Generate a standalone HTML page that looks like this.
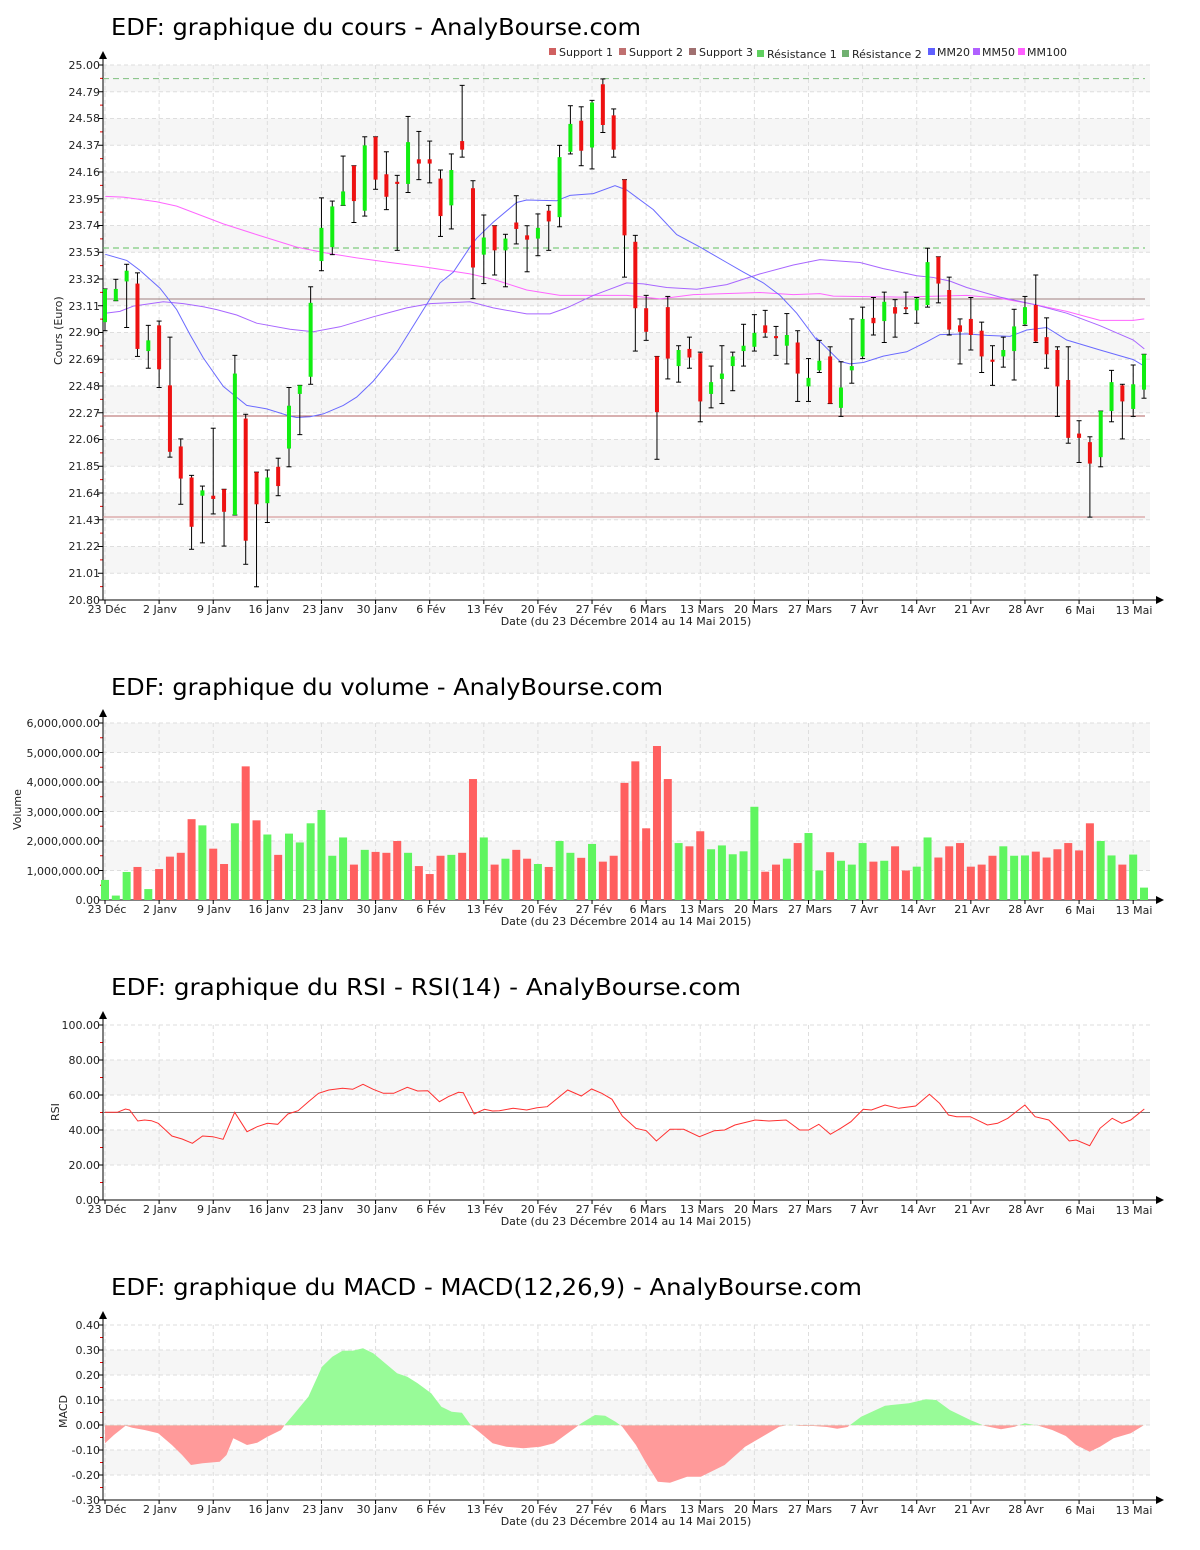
<!DOCTYPE html>
<html><head><meta charset="utf-8"><style>
body{margin:0;background:#fff}
svg{display:block}
text{font-family:"DejaVu Sans","Liberation Sans",sans-serif;fill:#222}
.t{font-size:23px;fill:#000}
.y{font-size:11px;text-anchor:end}
.x{font-size:11px;text-anchor:middle}
.l{font-size:11px}
</style></head><body>
<svg id="s" width="1200" height="1550" viewBox="0 0 1200 1550" xmlns="http://www.w3.org/2000/svg">
<g id="g"></g>
<text class="t" x="111" y="35" textLength="530" lengthAdjust="spacingAndGlyphs">EDF: graphique du cours - AnalyBourse.com</text>
<text class="t" x="111" y="695" textLength="552" lengthAdjust="spacingAndGlyphs">EDF: graphique du volume - AnalyBourse.com</text>
<text class="t" x="111" y="995" textLength="630" lengthAdjust="spacingAndGlyphs">EDF: graphique du RSI - RSI(14) - AnalyBourse.com</text>
<text class="t" x="111" y="1295" textLength="751" lengthAdjust="spacingAndGlyphs">EDF: graphique du MACD - MACD(12,26,9) - AnalyBourse.com</text>

<g class="l">
<rect x="549" y="48" width="7" height="7" fill="#d06060"/><text x="559" y="56">Support 1</text>
<rect x="619" y="48" width="7" height="7" fill="#c07070"/><text x="629" y="56">Support 2</text>
<rect x="689" y="48" width="7" height="7" fill="#a07070"/><text x="699" y="56">Support 3</text>
<rect x="757" y="50" width="7" height="7" fill="#60d060"/><text x="767" y="58">Résistance 1</text>
<rect x="842" y="50" width="7" height="7" fill="#70b070"/><text x="852" y="58">Résistance 2</text>
<rect x="928" y="48" width="7" height="7" fill="#6060ff"/><text x="937" y="56">MM20</text>
<rect x="973" y="48" width="7" height="7" fill="#b060ff"/><text x="982" y="56">MM50</text>
<rect x="1018" y="48" width="7" height="7" fill="#ff60ff"/><text x="1027" y="56">MM100</text>
</g>

<g class="y">
<text x="100" y="69">25.00</text><text x="100" y="96">24.79</text><text x="100" y="122">24.58</text><text x="100" y="149">24.37</text><text x="100" y="176">24.16</text><text x="100" y="203">23.95</text><text x="100" y="229">23.74</text><text x="100" y="256">23.53</text><text x="100" y="283">23.32</text><text x="100" y="310">23.11</text><text x="100" y="336">22.90</text><text x="100" y="363">22.69</text><text x="100" y="390">22.48</text><text x="100" y="417">22.27</text><text x="100" y="443">22.06</text><text x="100" y="470">21.85</text><text x="100" y="497">21.64</text><text x="100" y="524">21.43</text><text x="100" y="550">21.22</text><text x="100" y="577">21.01</text><text x="100" y="604">20.80</text>
<text x="100" y="727">6,000,000.00</text><text x="100" y="757">5,000,000.00</text><text x="100" y="786">4,000,000.00</text><text x="100" y="816">3,000,000.00</text><text x="100" y="845">2,000,000.00</text><text x="100" y="875">1,000,000.00</text><text x="100" y="904">0.00</text>
<text x="100" y="1029">100.00</text><text x="100" y="1064">80.00</text><text x="100" y="1099">60.00</text><text x="100" y="1134">40.00</text><text x="100" y="1169">20.00</text><text x="100" y="1204">0.00</text>
<text x="100" y="1329">0.40</text><text x="100" y="1354">0.30</text><text x="100" y="1379">0.20</text><text x="100" y="1404">0.10</text><text x="100" y="1429">0.00</text><text x="100" y="1454">-0.10</text><text x="100" y="1479">-0.20</text><text x="100" y="1504">-0.30</text>
</g>
<g class="l">
<text transform="translate(62,365) rotate(-90)">Cours (Euro)</text>
<text transform="translate(21,830) rotate(-90)">Volume</text>
<text transform="translate(59,1121) rotate(-90)">RSI</text>
<text transform="translate(67,1428) rotate(-90)">MACD</text>
</g>

<g class="x" transform="translate(0,613)">
<text x="107" y="0">23 Déc</text><text x="160" y="0">2 Janv</text><text x="214" y="0">9 Janv</text><text x="269" y="0">16 Janv</text><text x="323" y="0">23 Janv</text><text x="377" y="0">30 Janv</text><text x="431" y="0">6 Fév</text><text x="485" y="0">13 Fév</text><text x="539" y="0">20 Fév</text><text x="594" y="0">27 Fév</text><text x="648" y="0">6 Mars</text><text x="702" y="0">13 Mars</text><text x="756" y="0">20 Mars</text><text x="810" y="0">27 Mars</text><text x="864" y="0">7 Avr</text><text x="918" y="0">14 Avr</text><text x="972" y="0">21 Avr</text><text x="1026" y="0">28 Avr</text><text x="1080" y="1">6 Mai</text><text x="1134" y="1">13 Mai</text>
<text x="626" y="12">Date (du 23 Décembre 2014 au 14 Mai 2015)</text>
</g>
<g class="x" transform="translate(0,913)">
<text x="107" y="0">23 Déc</text><text x="160" y="0">2 Janv</text><text x="214" y="0">9 Janv</text><text x="269" y="0">16 Janv</text><text x="323" y="0">23 Janv</text><text x="377" y="0">30 Janv</text><text x="431" y="0">6 Fév</text><text x="485" y="0">13 Fév</text><text x="539" y="0">20 Fév</text><text x="594" y="0">27 Fév</text><text x="648" y="0">6 Mars</text><text x="702" y="0">13 Mars</text><text x="756" y="0">20 Mars</text><text x="810" y="0">27 Mars</text><text x="864" y="0">7 Avr</text><text x="918" y="0">14 Avr</text><text x="972" y="0">21 Avr</text><text x="1026" y="0">28 Avr</text><text x="1080" y="1">6 Mai</text><text x="1134" y="1">13 Mai</text>
<text x="626" y="12">Date (du 23 Décembre 2014 au 14 Mai 2015)</text>
</g>
<g class="x" transform="translate(0,1213)">
<text x="107" y="0">23 Déc</text><text x="160" y="0">2 Janv</text><text x="214" y="0">9 Janv</text><text x="269" y="0">16 Janv</text><text x="323" y="0">23 Janv</text><text x="377" y="0">30 Janv</text><text x="431" y="0">6 Fév</text><text x="485" y="0">13 Fév</text><text x="539" y="0">20 Fév</text><text x="594" y="0">27 Fév</text><text x="648" y="0">6 Mars</text><text x="702" y="0">13 Mars</text><text x="756" y="0">20 Mars</text><text x="810" y="0">27 Mars</text><text x="864" y="0">7 Avr</text><text x="918" y="0">14 Avr</text><text x="972" y="0">21 Avr</text><text x="1026" y="0">28 Avr</text><text x="1080" y="1">6 Mai</text><text x="1134" y="1">13 Mai</text>
<text x="626" y="12">Date (du 23 Décembre 2014 au 14 Mai 2015)</text>
</g>
<g class="x" transform="translate(0,1513)">
<text x="107" y="0">23 Déc</text><text x="160" y="0">2 Janv</text><text x="214" y="0">9 Janv</text><text x="269" y="0">16 Janv</text><text x="323" y="0">23 Janv</text><text x="377" y="0">30 Janv</text><text x="431" y="0">6 Fév</text><text x="485" y="0">13 Fév</text><text x="539" y="0">20 Fév</text><text x="594" y="0">27 Fév</text><text x="648" y="0">6 Mars</text><text x="702" y="0">13 Mars</text><text x="756" y="0">20 Mars</text><text x="810" y="0">27 Mars</text><text x="864" y="0">7 Avr</text><text x="918" y="0">14 Avr</text><text x="972" y="0">21 Avr</text><text x="1026" y="0">28 Avr</text><text x="1080" y="1">6 Mai</text><text x="1134" y="1">13 Mai</text>
<text x="626" y="12">Date (du 23 Décembre 2014 au 14 Mai 2015)</text>
</g>
</svg>
<script>
const NS='http://www.w3.org/2000/svg';const G=document.getElementById('g');
function el(t,a){const e=document.createElementNS(NS,t);for(const k in a)e.setAttribute(k,a[k]);G.appendChild(e);return e;}
const L=103,R=1150;
const TX=[];for(let k=0;k<20;k++)TX.push(105+54.115*k);
function panel(top,bot,n,greyOdd){
 const h=(bot-top)/n;
 for(let i=0;i<n;i++){if((i%2==1)==greyOdd)el('rect',{x:L,y:top+i*h,width:R-L,height:h,fill:'#f6f6f6'});}
 for(let i=0;i<=n;i++)el('line',{x1:L,x2:R,y1:top+i*h,y2:top+i*h,stroke:'#dedede','stroke-dasharray':'4,3'});
 for(const x of TX)el('line',{x1:x,x2:x,y1:top,y2:bot,stroke:'#dedede','stroke-dasharray':'4,3'});
 for(let i=0;i<=n;i++){el('line',{x1:98,x2:L,y1:top+i*h,y2:top+i*h,stroke:'#000'});
  if(i<n)el('line',{x1:100,x2:L,y1:top+(i+.5)*h,y2:top+(i+.5)*h,stroke:'#e00'});}
 for(const x of TX)el('line',{x1:x,x2:x,y1:bot,y2:bot+4,stroke:'#000'});
 el('line',{x1:L,x2:L,y1:top-10,y2:bot,stroke:'#000'});
 el('line',{x1:L,x2:1158,y1:bot,y2:bot,stroke:'#000'});
 el('path',{d:`M${L-4} ${top-6}L${L} ${top-14}L${L+4} ${top-6}Z`,fill:'#000'});
 el('path',{d:`M1156 ${bot-4}L1164 ${bot}L1156 ${bot+4}Z`,fill:'#000'});
}
panel(65,600,20,false);panel(723,900,6,false);panel(1025,1200,5,true);panel(1325,1500,7,true);
// price lines
el('line',{x1:L,x2:1145,y1:78.6,y2:78.6,stroke:'#80c080','stroke-dasharray':'6,4'});
el('line',{x1:L,x2:1145,y1:248,y2:248,stroke:'#60c060','stroke-dasharray':'6,4'});
el('line',{x1:L,x2:1145,y1:299,y2:299,stroke:'#a08080'});
el('line',{x1:L,x2:1145,y1:416,y2:416,stroke:'#b06060'});
el('line',{x1:L,x2:1145,y1:517,y2:517,stroke:'#d08888'});
const fy=v=>65+(3*(v-60)-15)/2.8;
const zy=z=>65+(z-15)/2.8;
function ma(parts,col){let pts=[];for(const [off,arr] of parts)for(let i=0;i<arr.length;i+=2)pts.push((off+arr[i]/3).toFixed(1)+','+zy(arr[i+1]).toFixed(1));
 el('polyline',{points:pts.join(' '),fill:'none',stroke:col,'stroke-width':1});}
ma([[90,[46,383,100,385,200,398,260,410,400,460,500,490,620,525,700,540,800,555,900,568,1000,580,1140,600]],[460,[100,615,200,645,300,660,500,660,600,670,700,658,900,652,1000,658,1080,655]],[800,[100,662,300,665,500,660,600,668,700,685,800,705,900,730,1000,730,1033,726]]],'#ff66ff');
ma([[90,[46,710,90,705,130,690,220,678,280,683,340,692,380,700,440,715,500,738,600,755,670,762,750,748,850,720,950,695,1020,683,1140,678]],[460,[100,695,200,712,270,712,320,695,400,660,500,625,550,628,620,638,710,643,800,630,900,600,1000,575,1080,560]],[800,[60,560,180,568,250,585,300,595,350,605,400,610,450,620,500,638,600,665,700,685,800,710,900,745,1000,785,1033,810]]],'#a866ff');
ma([[90,[46,545,110,562,150,590,210,640,260,700,300,770,340,835,400,915,470,968,530,978,600,998,620,1002,660,1000,700,992,760,968,800,945,850,900,920,820,980,730,1050,625,1090,595,1140,525]],[460,[50,500,100,455,170,400,200,393,290,395,330,380,400,375,465,353,500,365,580,420,650,490,720,525,800,568,850,595,910,625,960,660,1010,710,1070,785]],[800,[50,780,120,845,150,852,190,848,250,830,320,818,380,790,420,770,500,768,560,772,630,775,680,757,740,750,800,785,900,813,1000,840,1033,858]]],'#6a6aff');
const C=`274,305,274,313,G 274,285,265,285,G 257,267,251,310,G 269,330,259,337,R 322,332,308,348,G 308,349,304,366,R 364,426,319,431,R 421,451,414,475,R 450,496,448,517,R 462,467,458,511,G 467,470,404,484,R 461,482,461,514,R 353,485,336,485,G 395,509,391,531,R 445,475,445,552,R 450,474,443,492,G 440,458,432,467,R 383,423,366,440,G 364,372,364,410,G 287,356,272,363,G 217,248,189,257,G 197,235,192,242,G 183,196,150,196,G 159,192,159,212,R 140,201,132,206,G 132,172,132,181,R 167,188,146,200,R 174,176,168,238,R 137,176,113,184,G 153,157,127,172,R 153,157,136,175,R 171,206,163,225,R 163,196,148,218,G 136,144,84,151,R 180,254,173,283,R 226,242,205,269,G 215,238,215,261,R 227,238,223,272,G 212,218,187,232,R 224,228,215,258,R 217,227,204,243,G 201,211,196,238,R 151,207,140,216,G 120,146,103,148,G 117,145,104,159,R 100,142,98,162,G 83,121,78,128,R 112,144,106,151,R 172,224,172,263,R 230,292,224,332,R 292,314,280,322,R 337,389,337,433,R 291,339,281,358,R 331,346,327,361,G 330,338,319,348,R 334,379,333,398,R 361,372,346,385,G 353,358,327,381,G 337,346,333,369,G 327,332,307,346,G 315,328,298,332,G 308,315,294,319,R 318,320,309,336,R 317,327,297,344,G 324,353,313,379,R 357,365,339,379,G 341,350,322,352,G 337,381,328,381,R 366,385,342,393,G 346,350,302,362,G 302,337,291,339,G 301,306,282,317,R 286,304,277,324,G 291,297,284,319,R 291,292,277,297,R 283,294,282,306,G 249,289,236,291,G 244,269,244,287,R 275,312,263,317,R 308,314,302,344,R 302,317,282,331,R 313,337,305,352,R 340,342,327,364,R 331,337,319,347,G 309,332,293,359,G 291,307,281,308,G 289,323,261,324,R 319,335,301,348,R 331,365,328,393,R 359,413,328,418,R 409,413,397,436,R 417,437,412,487,R 388,431,388,440,G 361,388,350,398,G 364,379,363,414,R 363,386,345,393,G 335,368,335,376,G`.split(' ');
const V=[0.68,0.15,0.95,1.12,0.37,1.05,1.47,1.6,2.74,2.53,1.74,1.22,2.6,4.53,2.7,2.22,1.53,2.25,1.95,2.6,3.05,1.5,2.12,1.2,1.7,1.63,1.6,2.0,1.6,1.15,0.88,1.5,1.53,1.6,4.1,2.12,1.2,1.4,1.7,1.4,1.22,1.12,2.0,1.6,1.43,1.9,1.3,1.5,3.97,4.7,2.43,5.22,4.1,1.93,1.82,2.33,1.72,1.85,1.55,1.65,3.16,0.96,1.2,1.4,1.93,2.27,1.0,1.62,1.33,1.2,1.93,1.3,1.33,1.82,1.0,1.13,2.12,1.44,1.82,1.93,1.13,1.2,1.5,1.82,1.5,1.51,1.64,1.44,1.72,1.93,1.68,2.6,2.0,1.51,1.2,1.54,0.42];
C.forEach((s,i)=>{const p=s.split(',');const x=105+i*10.823;const g=p[4]=='G';
 const ot=fy(+p[0]),ob=fy(+p[1]),wt=fy(+p[2]),wb=fy(+p[3]);
 el('line',{x1:x,x2:x,y1:wt,y2:wb,stroke:'#000'});
 el('line',{x1:x-2.5,x2:x+2.5,y1:wt,y2:wt,stroke:'#000'});
 el('line',{x1:x-2.5,x2:x+2.5,y1:wb,y2:wb,stroke:'#000'});
 el('rect',{x:x-2,y:ot,width:4,height:Math.max(2,ob-ot),fill:g?'#11ee11':'#ee1111'});
 const v=V[i];el('rect',{x:x-4,y:900-v*29.5,width:8,height:v*29.5,fill:g?'#5ff55f':'#ff5f5f'});
});
// RSI
el('line',{x1:L,x2:R,y1:1112.5,y2:1112.5,stroke:'#777'});
const RS=[22,157,40,157,52,147,58,150,70,183,80,180,90,182,100,190,120,228,135,237,150,250,165,228,180,230,195,238,212,157,230,215,245,200,260,190,275,193,290,162,305,152,320,125,335,100,350,90,370,85,385,88,400,73,415,88,430,100,445,100,465,82,480,93,495,92,512,125,525,110,540,97,547,98,563,162,578,148,590,153,600,152,620,145,640,150,655,143,670,140,700,90,720,108,735,87,750,100,765,118,780,168,800,205,815,212,830,243,850,208,870,208,893,230,915,212,930,210,945,195,975,180,995,183,1020,180,1040,210,1053,210,1068,193,1085,223,1100,205,1115,185,1133,148,1145,150,1165,135,1185,145,1210,138,1230,103,1245,130,1258,165,1270,170,1290,170,1315,195,1330,190,1345,175,1370,135,1385,170,1405,180,1420,210,1435,243,1445,240,1465,257,1480,205,1498,175,1512,190,1525,180,1545,147];
let rp=[];for(let i=0;i<RS.length;i+=2)rp.push((90+RS[i]/1.4654).toFixed(1)+','+(1060+RS[i+1]/3).toFixed(1));
el('polyline',{points:rp.join(' '),fill:'none',stroke:'#ff3030','stroke-width':1});
// MACD
const M=[22,340,35,315,52,287,62,293,80,300,100,310,120,345,135,375,148,405,165,400,190,395,200,375,210,325,230,345,245,338,260,320,280,300,285,286,300,250,320,200,340,110,355,80,370,62,385,62,400,55,415,70,430,95,450,130,465,140,480,160,500,190,515,230,530,245,545,248,558,286,570,305,590,340,610,350,635,355,660,350,680,340,700,310,720,280,740,255,755,257,770,275,780,290,800,345,815,400,832,455,850,458,875,440,895,440,930,405,960,350,985,320,1010,290,1025,284,1040,288,1060,288,1080,291,1095,296,1110,291,1130,260,1165,227,1200,220,1225,208,1240,210,1260,240,1290,270,1310,287,1335,298,1355,290,1370,280,1390,287,1410,300,1430,318,1445,345,1465,365,1480,350,1500,325,1525,310,1545,285];
let mp=[];for(let i=0;i<M.length;i+=2)mp.push((90+M[i]/1.4654).toFixed(1)+','+(1330+M[i+1]/3).toFixed(1));
const x0=(90+22/1.4654).toFixed(1),x1=(90+1545/1.4654).toFixed(1);
const d='M'+x0+',1425.3L'+mp.join('L')+'L'+x1+',1425.3Z';
const defs=el('defs',{});
defs.innerHTML='<clipPath id="ca"><rect x="0" y="1300" width="1200" height="125.3"/></clipPath><clipPath id="cb"><rect x="0" y="1425.3" width="1200" height="100"/></clipPath>';
el('path',{d:d,fill:'#98fb98','clip-path':'url(#ca)'});
el('path',{d:d,fill:'#ff9a9a','clip-path':'url(#cb)'});
</script>
</body></html>
